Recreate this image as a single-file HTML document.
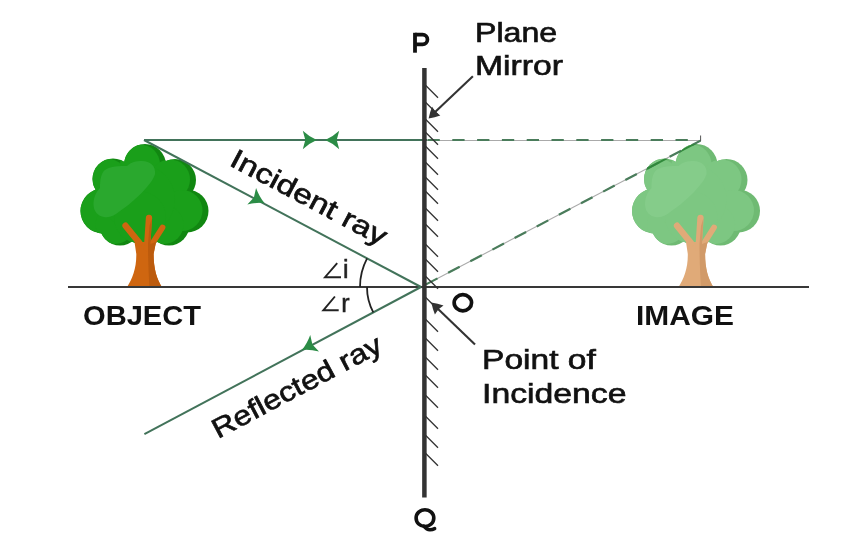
<!DOCTYPE html><html><head><meta charset="utf-8"><style>html,body{margin:0;padding:0;background:#fff;}svg{display:block;will-change:transform;}text{font-family:"Liberation Sans",sans-serif;}</style></head><body><svg width="868" height="556" viewBox="0 0 868 556"><rect width="868" height="556" fill="#fff"/><g transform="translate(0,0)"><clipPath id="clL"><circle cx="145" cy="165" r="21"/><circle cx="113" cy="179" r="20.5"/><circle cx="175" cy="180" r="21"/><circle cx="103" cy="211" r="22.5"/><circle cx="187" cy="211" r="21.5"/><circle cx="120" cy="225" r="20.5"/><circle cx="169" cy="225" r="20.5"/><circle cx="145" cy="200" r="36"/><circle cx="145" cy="218" r="27"/></clipPath><g fill="#118711"><circle cx="145" cy="165" r="21"/><circle cx="113" cy="179" r="20.5"/><circle cx="175" cy="180" r="21"/><circle cx="103" cy="211" r="22.5"/><circle cx="187" cy="211" r="21.5"/><circle cx="120" cy="225" r="20.5"/><circle cx="169" cy="225" r="20.5"/><circle cx="145" cy="200" r="36"/><circle cx="145" cy="218" r="27"/></g><clipPath id="clL2"><circle cx="145" cy="165" r="21"/><circle cx="113" cy="179" r="20.5"/><circle cx="175" cy="180" r="21"/><circle cx="103" cy="211" r="22.5"/><circle cx="187" cy="211" r="21.5"/><circle cx="120" cy="225" r="20.5"/><circle cx="169" cy="225" r="20.5"/><circle cx="145" cy="200" r="36"/><circle cx="145" cy="218" r="27"/></clipPath><g fill="#1a9f1a" clip-path="url(#clL)"><circle cx="140" cy="164.5" r="20"/><circle cx="108" cy="178.5" r="19.5"/><circle cx="170" cy="179.5" r="20"/><circle cx="98" cy="210.5" r="21.5"/><circle cx="182" cy="210.5" r="20.5"/><circle cx="115" cy="224.5" r="19.5"/><circle cx="164" cy="224.5" r="19.5"/><circle cx="140" cy="199.5" r="35"/><circle cx="140" cy="217.5" r="26"/></g><path fill="#2aa82e" d="M104,217 C98,216 94,212 93.5,205 C93.5,199 95,193 100,188 C100,180 101,173 105,170 C110,166 120,166 127,166 C131,162 136,161 142,161 C150,161 156,166 155,174 C153,183 135,201 120,211 C115,215 110,218 104,217 Z"/><path fill="#cf6610" d="M126.5,288 C132.5,279 136.5,268 136.3,254 L134.5,242 L156,242 L153.6,254 C153.6,268 156.5,279 162.5,288 Z"/><g stroke="#cf6610" stroke-linecap="round" fill="none"><path d="M125.5,225.7 L139.5,243" stroke-width="6.3"/><path d="M149,217.8 L147,248" stroke-width="6.3"/><path d="M162.5,227.5 L152,244" stroke-width="5.8"/></g><path fill="#bc5b0d" d="M149.5,226 L151.8,218.5 L150.5,244 L156,242 L153.6,254 C153.6,268 156.5,279 162.5,288 L149.5,288 C148.5,272 148,258 148,244 Z"/></g><g transform="translate(551.5,0)"><clipPath id="clR"><circle cx="145" cy="165" r="21"/><circle cx="113" cy="179" r="20.5"/><circle cx="175" cy="180" r="21"/><circle cx="103" cy="211" r="22.5"/><circle cx="187" cy="211" r="21.5"/><circle cx="120" cy="225" r="20.5"/><circle cx="169" cy="225" r="20.5"/><circle cx="145" cy="200" r="36"/><circle cx="145" cy="218" r="27"/></clipPath><g fill="#6fba73"><circle cx="145" cy="165" r="21"/><circle cx="113" cy="179" r="20.5"/><circle cx="175" cy="180" r="21"/><circle cx="103" cy="211" r="22.5"/><circle cx="187" cy="211" r="21.5"/><circle cx="120" cy="225" r="20.5"/><circle cx="169" cy="225" r="20.5"/><circle cx="145" cy="200" r="36"/><circle cx="145" cy="218" r="27"/></g><clipPath id="clR2"><circle cx="696.5" cy="165" r="21"/><circle cx="664.5" cy="179" r="20.5"/><circle cx="726.5" cy="180" r="21"/><circle cx="654.5" cy="211" r="22.5"/><circle cx="738.5" cy="211" r="21.5"/><circle cx="671.5" cy="225" r="20.5"/><circle cx="720.5" cy="225" r="20.5"/><circle cx="696.5" cy="200" r="36"/><circle cx="696.5" cy="218" r="27"/></clipPath><g fill="#7dc782" clip-path="url(#clR)"><circle cx="140" cy="164.5" r="20"/><circle cx="108" cy="178.5" r="19.5"/><circle cx="170" cy="179.5" r="20"/><circle cx="98" cy="210.5" r="21.5"/><circle cx="182" cy="210.5" r="20.5"/><circle cx="115" cy="224.5" r="19.5"/><circle cx="164" cy="224.5" r="19.5"/><circle cx="140" cy="199.5" r="35"/><circle cx="140" cy="217.5" r="26"/></g><path fill="#85cc8a" d="M104,217 C98,216 94,212 93.5,205 C93.5,199 95,193 100,188 C100,180 101,173 105,170 C110,166 120,166 127,166 C131,162 136,161 142,161 C150,161 156,166 155,174 C153,183 135,201 120,211 C115,215 110,218 104,217 Z"/><path fill="#e0aa78" d="M126.5,288 C132.5,279 136.5,268 136.3,254 L134.5,242 L156,242 L153.6,254 C153.6,268 156.5,279 162.5,288 Z"/><g stroke="#e0aa78" stroke-linecap="round" fill="none"><path d="M125.5,225.7 L139.5,243" stroke-width="6.3"/><path d="M149,217.8 L147,248" stroke-width="6.3"/><path d="M162.5,227.5 L152,244" stroke-width="5.8"/></g><path fill="#d19a68" d="M149.5,226 L151.8,218.5 L150.5,244 L156,242 L153.6,254 C153.6,268 156.5,279 162.5,288 L149.5,288 C148.5,272 148,258 148,244 Z"/></g><line x1="68" y1="287.1" x2="809" y2="287.1" stroke="#383838" stroke-width="2"/><line x1="427" y1="140.5" x2="700.6" y2="140.5" stroke="#aaa" stroke-width="1.1"/><line x1="426" y1="284.4" x2="700.6" y2="140.6" stroke="#aaa" stroke-width="1.1"/><line x1="427" y1="140" x2="700.6" y2="140" stroke="#4a7c5b" stroke-width="2.2" stroke-dasharray="12.3 12.5" stroke-dashoffset="-0.5"/><line x1="426" y1="284.4" x2="700.6" y2="140.6" stroke="#4a7c5b" stroke-width="2.2" stroke-dasharray="13 12" /><g clip-path="url(#clR2)"><line x1="426" y1="284.4" x2="700.6" y2="140.6" stroke="#2f8a3a" stroke-width="2"/></g><line x1="144" y1="140" x2="427" y2="140" stroke="#42735a" stroke-width="2"/><line x1="144" y1="140" x2="421.0" y2="287.0" stroke="#42735a" stroke-width="2"/><line x1="421.0" y1="287.0" x2="144.4" y2="434.2" stroke="#42735a" stroke-width="2"/><path d="M316.80,140.00 Q309.80,142.79 302.80,149.30 L305.30,140.00 L302.80,130.70 Q309.80,137.21 316.80,140.00 Z" fill="#2b8c46"/><path d="M325.20,140.00 Q332.20,137.21 339.20,130.70 L336.70,140.00 L339.20,149.30 Q332.20,142.79 325.20,140.00 Z" fill="#2b8c46"/><path d="M264.50,203.10 Q256.79,202.16 247.33,204.50 L253.90,197.47 L256.06,188.08 Q259.41,197.23 264.50,203.10 Z" fill="#2b8c46"/><path d="M301.80,350.10 Q306.89,344.23 310.24,335.08 L312.40,344.47 L318.97,351.50 Q309.51,349.16 301.80,350.10 Z" fill="#2b8c46"/><path d="M424,83.7 L438,97.8 M424,100.7 L438,114.8 M424,117.7 L438,131.8 M424,130.7 L438,144.8 M424,144.7 L438,158.8 M424,160.7 L438,174.8 M424,175.7 L438,189.8 M424,189.7 L438,203.8 M424,206.7 L438,220.8 M424,222.7 L438,236.8 M424,242.7 L438,256.8 M424,257.7 L438,271.8 M424,274.7 L438,288.8 M424,295.7 L438,309.8 M424,317.7 L438,331.8 M424,336.7 L438,350.8 M424,355.7 L438,369.8 M424,373.7 L438,387.8 M424,393.7 L438,407.8 M424,414.7 L438,428.8 M424,433.7 L438,447.8 M424,451.7 L438,465.8" stroke="#333" stroke-width="1.3" fill="none"/><line x1="700.6" y1="135.5" x2="700.6" y2="141" stroke="#555" stroke-width="1"/><line x1="424.4" y1="68" x2="424.4" y2="497.5" stroke="#333" stroke-width="4.5"/><line x1="472.9" y1="76.3" x2="433" y2="114" stroke="#333" stroke-width="2.1"/><path d="M428.60,118.40 Q429.93,112.17 432.08,106.82 L435.49,111.86 L440.34,115.52 Q434.89,117.39 428.60,118.40 Z" fill="#333"/><line x1="475" y1="344.5" x2="436" y2="307" stroke="#333" stroke-width="2.1"/><path d="M431.30,302.40 Q437.84,303.54 443.52,305.57 L438.50,309.34 L434.92,314.50 Q432.68,308.89 431.30,302.40 Z" fill="#333"/><path d="M360,287 A61,61 0 0 1 367.1,258.4" stroke="#222" stroke-width="1.8" fill="none"/><path d="M367,287 A54,54 0 0 0 373.3,312.4" stroke="#222" stroke-width="1.8" fill="none"/><path d="M337.2,263.1 L325,277.2 L341,277.2" stroke="#222" stroke-width="1.9" fill="none" stroke-linejoin="miter"/><path d="M334.9,296.5 L323.3,310.3 L338.7,310.3" stroke="#222" stroke-width="1.9" fill="none" stroke-linejoin="miter"/><text x="343" y="278.2" font-size="25" fill="#222" stroke="#222" stroke-width="0.5">i</text><text x="341.2" y="311.6" font-size="25" fill="#222" stroke="#222" stroke-width="0.5">r</text><g fill="none" stroke="#111" stroke-width="3.8"><path d="M415,32.8 V52.7"/><path d="M415,34.7 H422.6 A4.85,4.85 0 0 1 422.6,44.4 H415" stroke-width="3.7"/></g><text x="475" y="41.7" font-size="27.5" font-weight="normal" fill="#111" stroke="#111" stroke-width="0.65" textLength="82.2" lengthAdjust="spacingAndGlyphs">Plane</text><text x="475" y="74.8" font-size="27" font-weight="normal" fill="#111" stroke="#111" stroke-width="0.65" textLength="88" lengthAdjust="spacingAndGlyphs">Mirror</text><ellipse cx="462.85" cy="302.75" rx="8.7" ry="8.1" fill="none" stroke="#111" stroke-width="3.7"/><text x="83" y="325" font-size="28" font-weight="bold" fill="#111" textLength="118" lengthAdjust="spacingAndGlyphs">OBJECT</text><text x="636" y="324.7" font-size="28" font-weight="bold" fill="#111" textLength="98" lengthAdjust="spacingAndGlyphs">IMAGE</text><text x="482" y="369.1" font-size="27.5" font-weight="normal" fill="#111" stroke="#111" stroke-width="0.65" textLength="113.8" lengthAdjust="spacingAndGlyphs">Point of</text><text x="482" y="403.2" font-size="27.5" font-weight="normal" fill="#111" stroke="#111" stroke-width="0.65" textLength="144.5" lengthAdjust="spacingAndGlyphs">Incidence</text><g fill="none" stroke="#111" stroke-width="3.6" stroke-linecap="round"><ellipse cx="424.95" cy="518.1" rx="8.85" ry="8.4"/><path d="M423.8,526.2 Q427,530 430,529.8 Q432.5,529.6 434.6,528.6"/></g><g transform="translate(228.3,164.8) rotate(28)"><text x="0" y="0" font-size="27.3" font-weight="normal" fill="#111" stroke="#111" stroke-width="0.65" textLength="173" lengthAdjust="spacingAndGlyphs">Incident ray</text></g><g transform="translate(218,439) rotate(-28)"><text x="0" y="0" font-size="27.5" font-weight="normal" fill="#111" stroke="#111" stroke-width="0.65" textLength="188" lengthAdjust="spacingAndGlyphs">Reflected ray</text></g></svg></body></html>
